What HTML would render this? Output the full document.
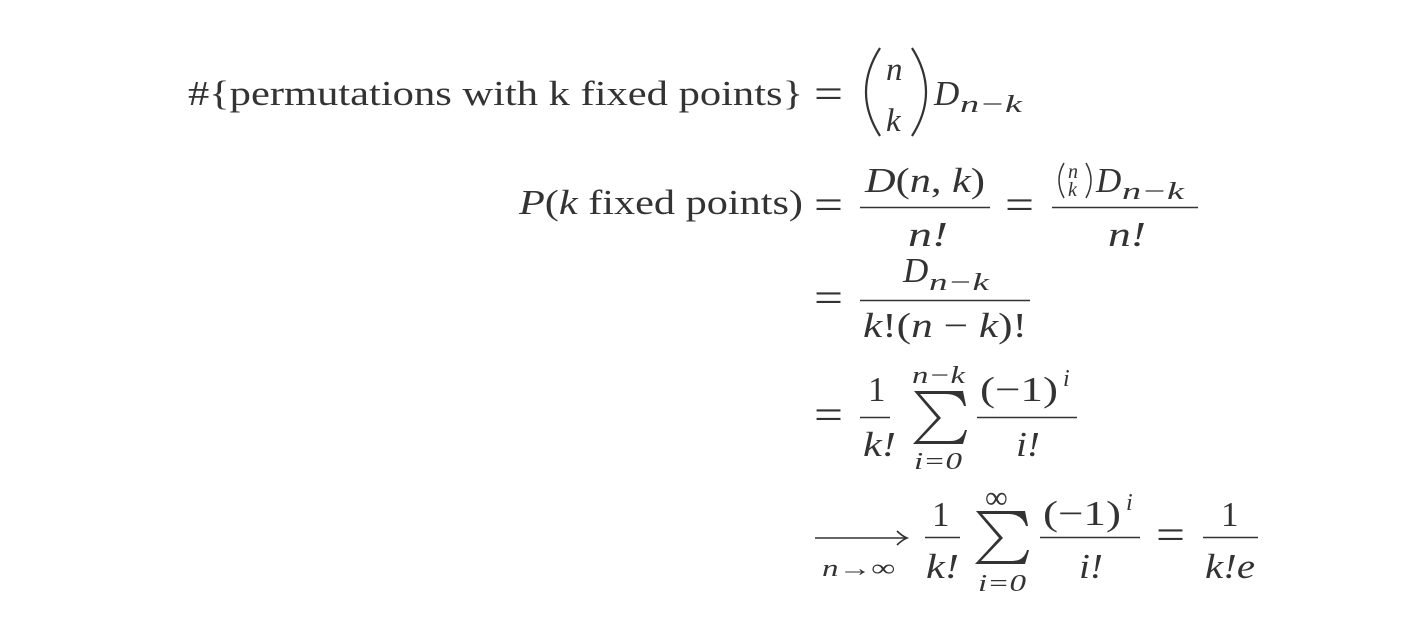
<!DOCTYPE html>
<html><head><meta charset="utf-8"><style>
html,body{margin:0;padding:0;background:#fff;}
svg{display:block;}
text{font-family:"Liberation Serif",serif;fill:#333;}
.i{font-style:italic;}
</style></head><body>
<svg width="1422" height="642" viewBox="0 0 1422 642" xmlns="http://www.w3.org/2000/svg">
<g stroke="#333" fill="none">
<line x1="860" y1="207.5" x2="990" y2="207.5" stroke-width="1.6"/>
<line x1="1052" y1="207.5" x2="1198" y2="207.5" stroke-width="1.6"/>
<line x1="860" y1="300.5" x2="1030" y2="300.5" stroke-width="1.6"/>
<line x1="860" y1="417.5" x2="890" y2="417.5" stroke-width="1.6"/>
<line x1="977" y1="417.5" x2="1077" y2="417.5" stroke-width="1.6"/>
<line x1="925" y1="537.5" x2="960" y2="537.5" stroke-width="1.6"/>
<line x1="1040" y1="537.5" x2="1140" y2="537.5" stroke-width="1.6"/>
<line x1="1203" y1="537.5" x2="1258" y2="537.5" stroke-width="1.6"/>
<line x1="815" y1="538" x2="905" y2="538" stroke-width="1.6"/>
<path d="M897 531 Q902 536 907 538 Q902 540 897 545" stroke-width="1.6"/>
<path d="M880 48 Q852 92 880 136" stroke-width="2.2"/>
<path d="M912 48 Q940 92 912 136" stroke-width="2.2"/>
<path d="M1064 163 Q1054 180 1064 198" stroke-width="1.5"/>
<path d="M1086 163 Q1096 180 1086 198" stroke-width="1.5"/>
</g>
<g fill="#333">
<path d="M914 391 L963 391 L966 406 L964 406 Q960 394 946 394 L920 394 L941 418 L919 441 L950 441 Q962 441 965 430 L967 430 L963 444 L913 444 L937 418 Z"/>
<path d="M976 511 L1025 511 L1028 526 L1026 526 Q1022 514 1008 514 L982 514 L1003 538 L981 561 L1012 561 Q1024 561 1027 550 L1029 550 L1025 564 L975 564 L999 538 Z"/>
</g>
<text x="188" y="105" font-size="35" textLength="615" lengthAdjust="spacingAndGlyphs">#{permutations with k fixed points}</text>
<text x="814" y="108" font-size="42" textLength="29" lengthAdjust="spacingAndGlyphs">=</text>
<text x="886" y="80" font-size="33" class="i">n</text>
<text x="886" y="131" font-size="33" class="i">k</text>
<text x="934" y="105" font-size="35" class="i">D</text>
<text x="960" y="112" font-size="24" class="i" textLength="62" lengthAdjust="spacingAndGlyphs">n−k</text>
<text x="519" y="214" font-size="35" textLength="284" lengthAdjust="spacingAndGlyphs"><tspan class="i">P</tspan>(<tspan class="i">k</tspan> fixed points)</text>
<text x="814" y="219" font-size="42" textLength="29" lengthAdjust="spacingAndGlyphs">=</text>
<text x="865" y="192" font-size="35" textLength="120" lengthAdjust="spacingAndGlyphs"><tspan class="i">D</tspan>(<tspan class="i">n</tspan>, <tspan class="i">k</tspan>)</text>
<text x="908" y="246" font-size="35" class="i" textLength="40" lengthAdjust="spacingAndGlyphs">n!</text>
<text x="1005" y="219" font-size="42" textLength="29" lengthAdjust="spacingAndGlyphs">=</text>
<text x="1068" y="178" font-size="20" class="i">n</text>
<text x="1068" y="196" font-size="20" class="i">k</text>
<text x="1096" y="192" font-size="35" class="i">D</text>
<text x="1122" y="199" font-size="24" class="i" textLength="62" lengthAdjust="spacingAndGlyphs">n−k</text>
<text x="1108" y="246" font-size="35" class="i" textLength="38" lengthAdjust="spacingAndGlyphs">n!</text>
<text x="814" y="312" font-size="42" textLength="29" lengthAdjust="spacingAndGlyphs">=</text>
<text x="903" y="282" font-size="35" class="i">D</text>
<text x="929" y="290" font-size="24" class="i" textLength="60" lengthAdjust="spacingAndGlyphs">n−k</text>
<text x="863" y="337" font-size="35" textLength="164" lengthAdjust="spacingAndGlyphs"><tspan class="i">k</tspan>!(<tspan class="i">n</tspan> − <tspan class="i">k</tspan>)!</text>
<text x="814" y="429" font-size="42" textLength="29" lengthAdjust="spacingAndGlyphs">=</text>
<text x="868" y="401" font-size="35">1</text>
<text x="863" y="456" font-size="35" class="i" textLength="33" lengthAdjust="spacingAndGlyphs">k!</text>
<text x="912" y="383" font-size="24" class="i" textLength="53" lengthAdjust="spacingAndGlyphs">n−k</text>
<text x="914" y="469" font-size="24" class="i" textLength="48" lengthAdjust="spacingAndGlyphs">i=0</text>
<text x="980" y="401" font-size="35" textLength="78" lengthAdjust="spacingAndGlyphs">(−1)</text>
<text x="1063" y="386" font-size="24" class="i">i</text>
<text x="1016" y="456" font-size="35" class="i" textLength="24" lengthAdjust="spacingAndGlyphs">i!</text>
<text x="822" y="576" font-size="24" class="i" textLength="73" lengthAdjust="spacingAndGlyphs">n→∞</text>
<text x="932" y="526" font-size="35">1</text>
<text x="926" y="578" font-size="35" class="i" textLength="33" lengthAdjust="spacingAndGlyphs">k!</text>
<text x="985" y="508" font-size="32">∞</text>
<text x="978" y="591" font-size="24" class="i" textLength="48" lengthAdjust="spacingAndGlyphs">i=0</text>
<text x="1043" y="525" font-size="35" textLength="78" lengthAdjust="spacingAndGlyphs">(−1)</text>
<text x="1126" y="510" font-size="24" class="i">i</text>
<text x="1079" y="578" font-size="35" class="i" textLength="24" lengthAdjust="spacingAndGlyphs">i!</text>
<text x="1156" y="549" font-size="42" textLength="29" lengthAdjust="spacingAndGlyphs">=</text>
<text x="1221" y="526" font-size="35">1</text>
<text x="1205" y="578" font-size="35" class="i" textLength="50" lengthAdjust="spacingAndGlyphs">k!e</text>
</svg>
</body></html>
